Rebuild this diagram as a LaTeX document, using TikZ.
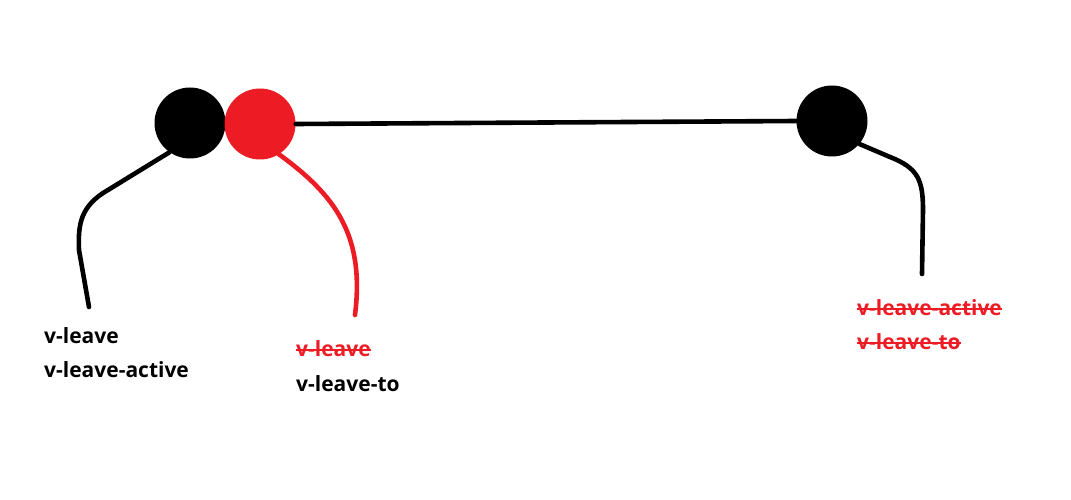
\documentclass[tikz,border=0pt]{standalone}
\usepackage{fontspec}
\setmainfont{Open Sans}
\definecolor{pred}{RGB}{237,28,36}

\begin{document}
\begin{tikzpicture}[x=1pt,y=-1pt,
	dot/.style={circle, fill=#1, minimum size=71pt, inner sep=0pt},
	wire/.style={line width=4.6pt, line cap=round},
	lbl/.style={anchor=base west, inner sep=0pt, font=\bfseries\fontsize{21}{24}\selectfont},
	gone/.style={lbl, text=pred}]

	\useasboundingbox (0,0) rectangle (1071,500);

	% Dots
	\node [dot=black] (dotA) at (190,123) {};
	\node [dot=pred]  (dotB) at (260,124) {};
	\node [dot=black] (dotC) at (832,121) {};

	% Straight
	\draw [wire] (dotB.east) -- (dotC.west);

	% Free ends
	\coordinate (endA) at (89,307);
	\coordinate (endB) at (355,315);
	\coordinate (endC) at (922,274);

	% Tails
	\draw [wire] (dotA.235) -- (108,190) .. controls (80,206) and (78,225) .. (79,250) -- (endA);
	\draw [wire, pred] (dotB.-58) .. controls (335,195) and (365,235) .. (endB);
	\draw [wire] (dotC.-40) -- (890,157) .. controls (918,168) and (923,180) .. (923,210) -- (endC);

	% Labels
	\node [lbl] (leaveA)  at (44,343) {v-leave};
	\node [lbl] (activeA) at (44,377) {v-leave-active};
	\node [gone] (leaveB) at (296,356) {v-leave};
	\node [lbl] (toB)     at (296,391) {v-leave-to};
	\node [gone] (activeC) at (857,315) {v-leave-active};
	\node [gone] (toC)     at (857,349) {v-leave-to};

	% Struck out
	\draw [pred, line width=2pt] ([yshift=6pt]leaveB.base west) -- ([yshift=6pt]leaveB.base east);
	\draw [pred, line width=2pt] ([yshift=6pt]activeC.base west) -- ([yshift=6pt]activeC.base east);
	\draw [pred, line width=2pt] ([yshift=6pt]toC.base west) -- ([yshift=6pt]toC.base east);

\end{tikzpicture}
\end{document}
